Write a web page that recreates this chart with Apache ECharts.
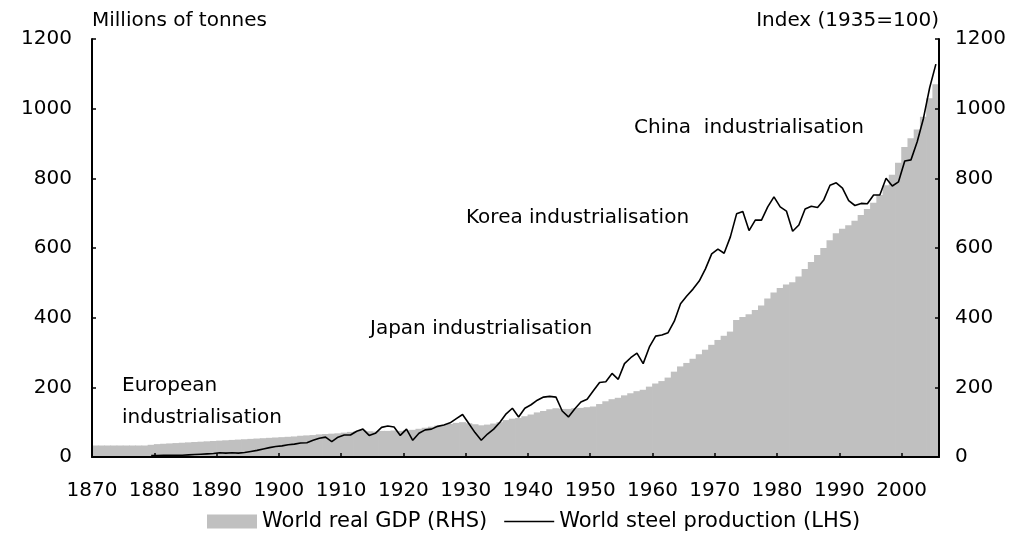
<!DOCTYPE html>
<html>
<head>
<meta charset="utf-8">
<script src="https://cdn.jsdelivr.net/npm/echarts@6/dist/echarts.min.js"></script>
<style>
  html, body { margin: 0; padding: 0; background: #fff; }
  #chart { width: 1019px; height: 533px; }
</style>
</head>
<body>
<div id="chart"></div>
<script>
// Categories: calendar years 1870..2005
const years = [];
for (let y = 1870; y <= 2005; y++) years.push(String(y));

// World real GDP, index 1935 = 100 (RHS)
const gdpIndex = [
  33, 33, 33, 33, 33, 33, 33, 33, 33, 35,          // 1870s
  37, 38, 39, 40, 41, 42, 43, 44, 45, 46,          // 1880s
  47, 48, 49, 50, 51, 52, 53, 54, 55, 56,          // 1890s
  57, 58, 59, 61, 62, 63, 65, 66, 67, 68,          // 1900s
  70, 72, 74, 76, 74, 73, 75, 75, 76, 75,          // 1910s
  77, 78, 81, 84, 87, 90, 92, 95, 98, 100,         // 1920s
  97, 94, 91, 93, 96, 100, 106, 110, 112, 117,     // 1930s
  122, 128, 132, 137, 140, 138, 138, 140, 141, 143,// 1940s
  145, 152, 160, 166, 170, 177, 183, 189, 193, 202,// 1950s
  211, 218, 228, 245, 260, 270, 282, 295, 308, 322,// 1960s
  336, 348, 360, 393, 402, 410, 422, 435, 455, 472,// 1970s
  485, 495, 502, 518, 540, 560, 580, 600, 622, 642,// 1980s
  655, 665, 678, 695, 712, 730, 752, 780, 810, 845,// 1990s
  890, 915, 940, 977, 1030, 1070                   // 2000-2005
];

// World steel production, millions of tonnes (LHS)
const steelMt = [
  null, null, null, null, null, null, null, null, null, 4,   // 1870s
  4, 5, 5, 5, 5, 6, 7, 8, 9, 10,                              // 1880s
  12, 11, 12, 11, 13, 16, 19, 23, 27, 30,                     // 1890s
  32, 35, 37, 40, 41, 48, 54, 57, 44, 57,                     // 1900s
  63, 63, 74, 80, 62, 68, 85, 89, 86, 62,                     // 1910s
  80, 48, 68, 78, 80, 88, 92, 98, 110, 122,                   // 1920s
  96, 70, 48, 66, 80, 100, 124, 140, 115, 140,                // 1930s
  150, 163, 172, 174, 172, 132, 115, 138, 158, 166,           // 1940s
  190, 214, 216, 240, 223, 268, 285, 298, 268, 316,           // 1950s
  347, 350, 357, 390, 440, 462, 482, 505, 540, 583,           // 1960s
  597, 585, 632, 698, 705, 650, 680, 680, 718, 747,           // 1970s
  718, 706, 648, 666, 712, 720, 716, 738, 780, 787,           // 1980s
  772, 736, 722, 728, 727, 752, 752, 800, 778, 790,           // 1990s
  850, 853, 905, 972, 1060, 1128                              // 2000-2005
];

// Axis settings
const yMin = 0, yMax = 1200, yStep = 200;
const xStartYear = 1870, xEndYear = 2006, xStep = 10;

const seriesNames = ['World real GDP (RHS)', 'World steel production (LHS)'];
const axisTitles = ['Millions of tonnes', 'Index (1935=100)'];

const FONT = 'DejaVu Sans';
const INK = '#000';
const GREY = '#c0c0c0';

const chart = echarts.init(document.getElementById('chart'), null, { renderer: 'canvas' });

const plain = v => String(v);

const yAxisCommon = {
  type: 'value', min: yMin, max: yMax, interval: yStep, z: 10,
  splitLine: { show: false },
  axisLine: { show: true, lineStyle: { color: INK, width: 2 } },
  axisTick: { show: true, inside: true, length: 4, lineStyle: { color: INK, width: 1.5 } },
  nameLocation: 'end', nameGap: 18
};

chart.setOption({
  animation: false,
  backgroundColor: '#fff',
  textStyle: { fontFamily: FONT, color: INK },
  grid: { left: 92, right: 80, top: 39, bottom: 76, containLabel: false },
  legend: {
    left: 207, top: 511, padding: 0,
    itemWidth: 50, itemHeight: 14, itemGap: 17,
    textStyle: { fontFamily: FONT, fontSize: 21, color: INK },
    data: [
      { name: seriesNames[0], icon: 'rect' },
      { name: seriesNames[1], icon: 'path://M0,0 M0,6.3 L50,6.3 L50,7.7 L0,7.7 Z M50,14' }
    ]
  },
  xAxis: [
    {
      type: 'category', data: years, boundaryGap: true, position: 'bottom',
      axisLine: { show: false }, axisTick: { show: false }, axisLabel: { show: false },
      splitLine: { show: false }
    },
    {
      type: 'value', min: xStartYear, max: xEndYear, interval: xStep, position: 'bottom', z: 10,
      splitLine: { show: false },
      axisLine: { show: true, onZero: false, lineStyle: { color: INK, width: 2 } },
      axisTick: { show: true, inside: true, length: 4, lineStyle: { color: INK, width: 1.5 } },
      axisLabel: {
        show: true, margin: 24, showMaxLabel: false,
        fontFamily: FONT, fontSize: 20, color: INK,
        formatter: plain
      }
    }
  ],
  yAxis: [
    Object.assign({}, yAxisCommon, {
      position: 'left',
      name: axisTitles[0],
      nameTextStyle: { fontFamily: FONT, fontSize: 20, color: INK, align: 'left', verticalAlign: 'middle' },
      axisLabel: { margin: 20, fontFamily: FONT, fontSize: 20, color: INK, formatter: plain }
    }),
    Object.assign({}, yAxisCommon, {
      position: 'right',
      name: axisTitles[1],
      nameTextStyle: { fontFamily: FONT, fontSize: 20, color: INK, align: 'right', verticalAlign: 'middle' },
      axisLabel: { margin: 16, fontFamily: FONT, fontSize: 20, color: INK, formatter: plain }
    })
  ],
  series: [
    {
      name: seriesNames[0], type: 'bar',
      xAxisIndex: 0, yAxisIndex: 1,
      data: gdpIndex,
      barWidth: 7, barGap: '0%',
      itemStyle: { color: GREY, borderWidth: 0 },
      emphasis: { disabled: true },
      z: 1
    },
    {
      name: seriesNames[1], type: 'line',
      xAxisIndex: 0, yAxisIndex: 0,
      data: steelMt,
      symbol: 'none', showSymbol: false, connectNulls: false,
      lineStyle: { color: INK, width: 1.6 },
      itemStyle: { color: INK },
      emphasis: { disabled: true },
      z: 3
    }
  ],
  graphic: [
    { type: 'text', x: 122, y: 386, style: { text: 'European', font: '20px "DejaVu Sans"', fill: INK, verticalAlign: 'middle' } },
    { type: 'text', x: 122, y: 418, style: { text: 'industrialisation', font: '20px "DejaVu Sans"', fill: INK, verticalAlign: 'middle' } },
    { type: 'text', x: 370, y: 329, style: { text: 'Japan industrialisation', font: '20px "DejaVu Sans"', fill: INK, verticalAlign: 'middle' } },
    { type: 'text', x: 466, y: 218, style: { text: 'Korea industrialisation', font: '20px "DejaVu Sans"', fill: INK, verticalAlign: 'middle' } },
    { type: 'text', x: 634, y: 128, style: { text: 'China  industrialisation', font: '20px "DejaVu Sans"', fill: INK, verticalAlign: 'middle' } }
  ]
});
</script>
</body>
</html>
